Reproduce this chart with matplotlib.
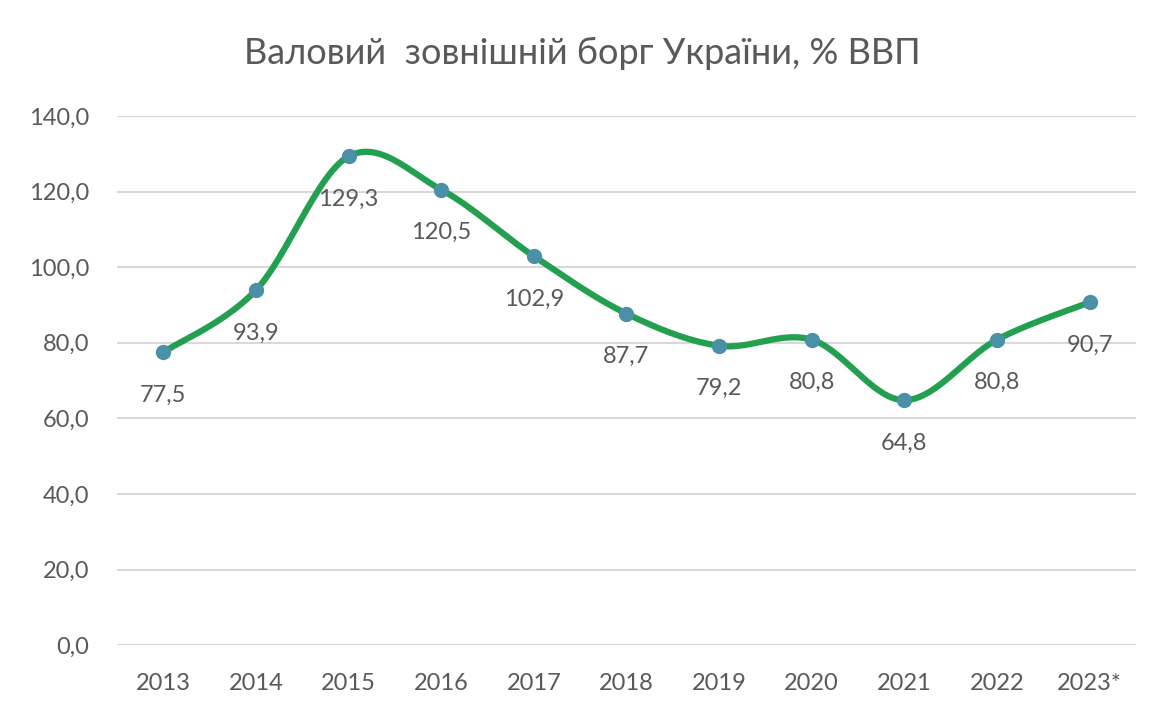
import numpy as np
import matplotlib
matplotlib.use("Agg")
import matplotlib.pyplot as plt

# Дані
years = ["2013", "2014", "2015", "2016", "2017", "2018", "2019", "2020", "2021", "2022", "2023*"]
debt = [77.5, 93.9, 129.3, 120.5, 102.9, 87.7, 79.2, 80.8, 64.8, 80.8, 90.7]
yticks = [0, 20, 40, 60, 80, 100, 120, 140]

plt.rcParams['font.family'] = ['Lato', 'DejaVu Sans']

line_color = '#22a050'
marker_color = '#4a90a8'
text_color = '#595959'


def smooth(xs, ys, n=30):
    # згладжування як в Excel (Catmull-Rom)
    xs = np.asarray(xs, float)
    ys = np.asarray(ys, float)
    px = np.concatenate([[xs[0]], xs, [xs[-1]]])
    py = np.concatenate([[ys[0]], ys, [ys[-1]]])
    out_x, out_y = [], []
    for i in range(1, len(px) - 2):
        t = np.linspace(0, 1, n)
        for p, out in ((px, out_x), (py, out_y)):
            p0, p1, p2, p3 = p[i - 1], p[i], p[i + 1], p[i + 2]
            out.extend(0.5 * ((2 * p1) + (-p0 + p2) * t
                              + (2 * p0 - 5 * p1 + 4 * p2 - p3) * t ** 2
                              + (-p0 + 3 * p1 - 3 * p2 + p3) * t ** 3))
    return out_x, out_y


fig = plt.figure(figsize=(11.65, 7.2), dpi=100)
ax = fig.add_axes([0.1004, 0.104, 0.8746, 0.735])

x = np.arange(len(years))
sx, sy = smooth(x, debt)
ax.plot(sx, sy, color=line_color, lw=4.5, solid_capstyle='round', zorder=3)
ax.plot(x, debt, 'o', color=marker_color, ms=10, zorder=4)

for xi, v in zip(x, debt):
    ax.annotate(f"{v:.1f}".replace('.', ','), (xi, v), xytext=(0, -31),
                textcoords='offset points', ha='center', va='center',
                fontsize=17, color=text_color, zorder=5)

ax.set_xlim(-0.5, len(years) - 0.5)
ax.set_ylim(0, 140)
ax.set_xticks(x)
ax.set_xticklabels(years)
ax.set_yticks(yticks)
ax.set_yticklabels([f"{t:.1f}".replace('.', ',') for t in yticks])
ax.tick_params(length=0, labelsize=17, colors=text_color)
ax.tick_params(axis='y', pad=20)
ax.tick_params(axis='x', pad=20)
ax.grid(axis='y', color='#d9d9d9', lw=1.5)
ax.set_axisbelow(True)
for s in ax.spines.values():
    s.set_visible(False)

fig.text(0.5, 0.926, "Валовий  зовнішній борг України, % ВВП", ha='center', va='center',
         fontsize=26, color=text_color)

fig.savefig("out.png", dpi=100, facecolor='white')
